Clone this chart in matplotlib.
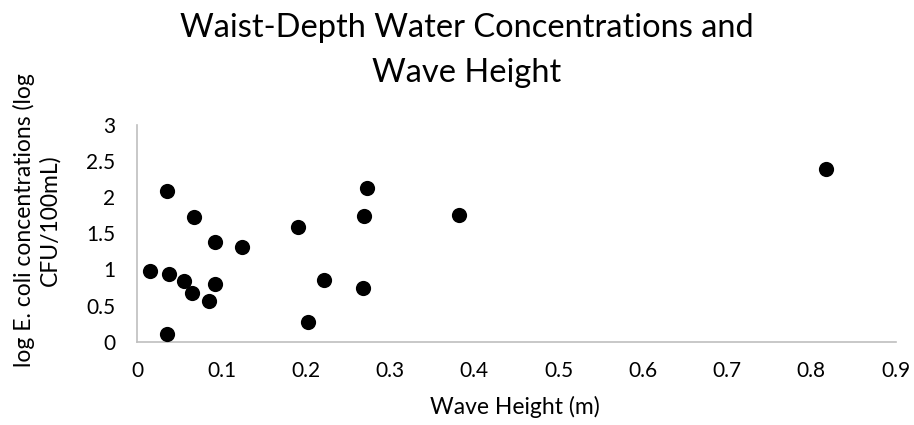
import matplotlib
matplotlib.use("Agg")
import matplotlib.pyplot as plt

# wave height (m) vs log E. coli (log CFU/100mL)
wave_height = [0.035, 0.067, 0.092, 0.1245, 0.015, 0.037, 0.055, 0.065, 0.0845,
               0.092, 0.035, 0.19, 0.202, 0.222, 0.272, 0.2695, 0.2675, 0.382, 0.818]
log_ecoli = [2.08, 1.72, 1.38, 1.31, 0.98, 0.94, 0.845, 0.67, 0.57,
             0.80, 0.10, 1.59, 0.27, 0.86, 2.13, 1.74, 0.74, 1.755, 2.39]

x_ticks = [0, 0.1, 0.2, 0.3, 0.4, 0.5, 0.6, 0.7, 0.8, 0.9]
y_ticks = [0, 0.5, 1, 1.5, 2, 2.5, 3]

plt.rcParams['font.family'] = ['Lato', 'DejaVu Sans']

fig = plt.figure(figsize=(9.14, 4.25), dpi=100)
ax = fig.add_axes([0.1504, 0.196, 0.8294, 0.51])

ax.scatter(wave_height, log_ecoli, s=120, color='black', zorder=3, linewidths=0)

ax.set_xlim(0, 0.9)
ax.set_ylim(0, 3)
ax.set_xticks(x_ticks)
ax.set_xticklabels([f"{t:g}" for t in x_ticks])
ax.set_yticks(y_ticks)
ax.set_yticklabels([f"{t:g}" for t in y_ticks])
ax.tick_params(length=0, labelsize=15, colors='black')
ax.tick_params(axis='x', pad=14)
ax.tick_params(axis='y', pad=16)

for side in ['top', 'right']:
    ax.spines[side].set_visible(False)
for side in ['left', 'bottom']:
    ax.spines[side].set_color('#bfbfbf')
    ax.spines[side].set_linewidth(1.2)

# two-line title, each line placed on its own baseline
fig.text(0.511, 0.9136, "Waist-Depth Water Concentrations and",
         ha='center', va='baseline', fontsize=23.5)
fig.text(0.511, 0.8078, "Wave Height", ha='center', va='baseline', fontsize=23.5)
fig.text(0.563, 0.026, "Wave Height (m)", ha='center', va='baseline', fontsize=16.5)
fig.text(0.040, 0.483, "log E. coli concentrations (log\nCFU/100mL)", rotation=90,
         ha='center', va='center', fontsize=16.5, linespacing=1.25)

fig.savefig("out.png", dpi=100)
